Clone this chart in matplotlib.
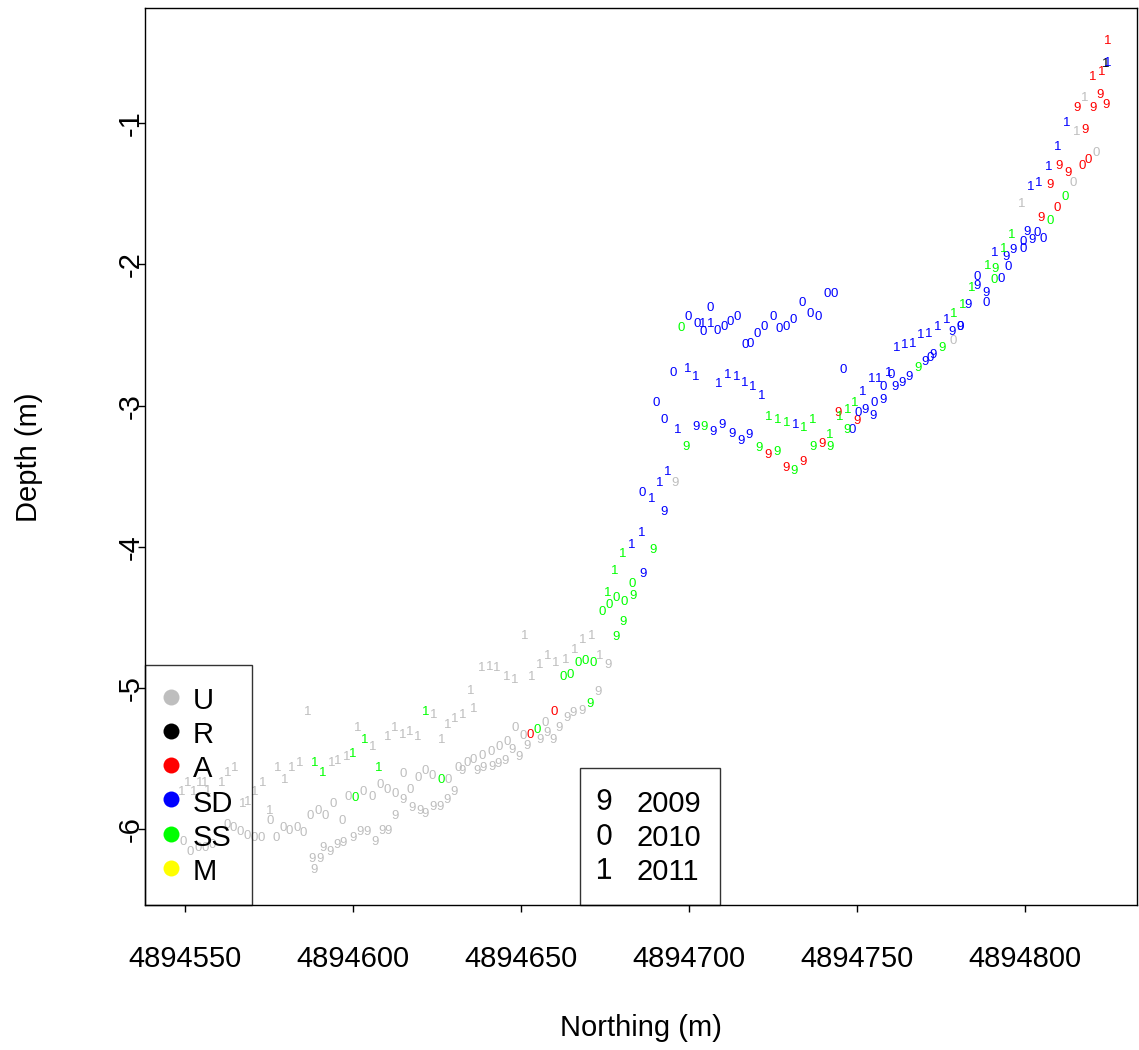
import matplotlib
matplotlib.use("Agg")
import matplotlib.pyplot as plt
from matplotlib.lines import Line2D

plt.rcParams["font.family"] = ["Liberation Sans", "DejaVu Sans"]
plt.rcParams["mathtext.fontset"] = "custom"
plt.rcParams["mathtext.rm"] = "Liberation Sans"

# survey points: northing (m) and depth (m) per group and year
u09_north = [4894587.8, 4894588.4, 4894590.2, 4894591.1, 4894593.2, 4894595.2, 4894597.0,
             4894600.0, 4894602.1, 4894604.2, 4894606.5, 4894608.6, 4894610.4, 4894612.5,
             4894614.9, 4894617.6, 4894619.9, 4894621.4, 4894623.8, 4894625.9, 4894628.0,
             4894630.1, 4894632.4, 4894636.9, 4894638.7, 4894641.4, 4894643.2, 4894645.2,
             4894647.3, 4894649.4, 4894651.8, 4894655.7, 4894657.7, 4894659.5, 4894661.3,
             4894663.7, 4894665.5, 4894668.2, 4894672.9, 4894675.9, 4894695.8]
u09_depth = [-6.21, -6.29, -6.21, -6.13, -6.16, -6.11, -6.10,
             -6.06, -6.02, -6.02, -6.09, -6.01, -6.01, -5.91,
             -5.79, -5.85, -5.87, -5.89, -5.84, -5.84, -5.79,
             -5.74, -5.59, -5.59, -5.57, -5.56, -5.54, -5.52,
             -5.44, -5.49, -5.41, -5.37, -5.32, -5.37, -5.28,
             -5.21, -5.18, -5.16, -5.03, -4.84, -3.55]

u10_north = [4894549.4, 4894551.5, 4894553.9, 4894556.0, 4894558.0, 4894562.5, 4894564.3,
             4894566.4, 4894568.5, 4894570.5, 4894572.6, 4894575.3, 4894577.1, 4894579.2,
             4894581.0, 4894583.3, 4894585.1, 4894587.2, 4894589.6, 4894591.7, 4894594.0,
             4894596.7, 4894598.5, 4894603.0, 4894605.7, 4894608.0, 4894610.1, 4894612.5,
             4894614.9, 4894617.0, 4894619.3, 4894621.4, 4894623.5, 4894628.3, 4894631.3,
             4894633.9, 4894635.7, 4894638.4, 4894641.1, 4894643.5, 4894645.8, 4894648.2,
             4894650.6, 4894657.1, 4894778.6, 4894814.3, 4894821.1]
u10_depth = [-6.09, -6.16, -6.13, -6.13, -6.11, -5.97, -5.99,
             -6.02, -6.05, -6.06, -6.06, -5.94, -6.06, -5.99,
             -6.01, -5.99, -6.03, -5.91, -5.87, -5.91, -5.82,
             -5.94, -5.77, -5.74, -5.77, -5.69, -5.72, -5.75,
             -5.61, -5.72, -5.64, -5.59, -5.62, -5.65, -5.57,
             -5.53, -5.51, -5.48, -5.45, -5.42, -5.38, -5.28,
             -5.34, -5.25, -2.54, -1.42, -1.21]

u11_north = [4894549.1, 4894550.9, 4894552.7, 4894554.5, 4894556.0, 4894556.8, 4894561.0,
             4894562.8, 4894564.9, 4894567.3, 4894568.8, 4894570.8, 4894573.2, 4894575.3,
             4894577.7, 4894579.8, 4894581.8, 4894584.2, 4894586.6, 4894593.8, 4894595.5,
             4894598.2, 4894601.5, 4894606.0, 4894610.4, 4894612.5, 4894614.9, 4894617.0,
             4894619.3, 4894624.1, 4894626.5, 4894628.3, 4894630.4, 4894632.7, 4894635.1,
             4894636.0, 4894638.4, 4894640.8, 4894642.9, 4894645.8, 4894648.2, 4894651.2,
             4894653.3, 4894655.7, 4894658.0, 4894660.4, 4894663.4, 4894666.1, 4894668.5,
             4894671.1, 4894673.5, 4894799.1, 4894815.5, 4894817.9]
u11_depth = [-5.74, -5.67, -5.74, -5.67, -5.67, -5.73, -5.67,
             -5.60, -5.57, -5.82, -5.81, -5.74, -5.67, -5.87,
             -5.57, -5.65, -5.57, -5.53, -5.17, -5.53, -5.52,
             -5.49, -5.28, -5.42, -5.35, -5.28, -5.33, -5.31,
             -5.35, -5.19, -5.37, -5.26, -5.22, -5.19, -5.02,
             -5.15, -4.86, -4.85, -4.86, -4.92, -4.94, -4.63,
             -4.92, -4.84, -4.77, -4.82, -4.80, -4.73, -4.66,
             -4.63, -4.77, -1.57, -1.06, -0.82]

r11_north = [4894824.1]
r11_depth = [-0.58]

a09_north = [4894723.5, 4894728.9, 4894733.9, 4894739.6, 4894744.3, 4894750.0, 4894804.8,
             4894807.4, 4894810.1, 4894812.8, 4894815.5, 4894817.9, 4894820.2, 4894822.3,
             4894824.1]
a09_depth = [-3.35, -3.44, -3.40, -3.27, -3.05, -3.11, -1.67,
             -1.44, -1.30, -1.35, -0.89, -1.05, -0.89, -0.80,
             -0.87]

a10_north = [4894652.7, 4894659.8, 4894809.5, 4894817.0, 4894819.0]
a10_depth = [-5.33, -5.17, -1.60, -1.30, -1.26]

a11_north = [4894820.2, 4894822.9, 4894824.7]
a11_depth = [-0.67, -0.64, -0.42]

sd09_north = [4894686.3, 4894692.6, 4894702.1, 4894707.1, 4894709.8, 4894712.8, 4894715.5,
              4894717.9, 4894752.4, 4894754.8, 4894757.7, 4894761.3, 4894763.4, 4894765.5,
              4894770.2, 4894772.6, 4894778.3, 4894780.7, 4894783.0, 4894785.7, 4894788.4,
              4894794.3, 4894796.4, 4894800.6, 4894802.1]
sd09_depth = [-4.19, -3.75, -3.15, -3.19, -3.14, -3.20, -3.25,
              -3.21, -3.03, -3.07, -2.96, -2.87, -2.84, -2.80,
              -2.69, -2.64, -2.48, -2.44, -2.29, -2.15, -2.20,
              -1.95, -1.90, -1.77, -1.83]

sd10_north = [4894686.0, 4894690.2, 4894692.6, 4894695.2, 4894699.7, 4894702.4, 4894704.2,
              4894706.3, 4894708.3, 4894710.4, 4894712.2, 4894714.3, 4894716.7, 4894718.2,
              4894720.2, 4894722.3, 4894725.0, 4894726.8, 4894728.9, 4894730.9, 4894733.6,
              4894736.0, 4894738.4, 4894741.1, 4894743.2, 4894745.8, 4894748.5, 4894750.3,
              4894755.1, 4894757.7, 4894760.1, 4894771.7, 4894780.7, 4894785.7, 4894788.4,
              4894792.9, 4894794.9, 4894799.4, 4894799.4, 4894803.6, 4894805.4]
sd10_depth = [-3.62, -2.98, -3.10, -2.77, -2.37, -2.42, -2.48,
              -2.31, -2.47, -2.44, -2.41, -2.37, -2.57, -2.56,
              -2.49, -2.44, -2.37, -2.46, -2.44, -2.39, -2.27,
              -2.35, -2.37, -2.21, -2.21, -2.75, -3.17, -3.05,
              -2.98, -2.87, -2.78, -2.66, -2.44, -2.09, -2.27,
              -2.10, -2.02, -1.89, -1.84, -1.78, -1.82]

sd11_north = [4894683.0, 4894686.0, 4894689.0, 4894691.4, 4894693.8, 4894696.7, 4894699.7,
              4894702.1, 4894704.2, 4894706.5, 4894708.9, 4894711.6, 4894714.3, 4894716.7,
              4894719.0, 4894721.7, 4894731.8, 4894751.8, 4894754.5, 4894756.5, 4894759.5,
              4894761.9, 4894764.3, 4894766.7, 4894769.0, 4894771.4, 4894774.1, 4894776.8,
              4894791.1, 4894801.8, 4894804.2, 4894807.1, 4894809.8, 4894812.5, 4894824.7]
sd11_depth = [-3.99, -3.90, -3.66, -3.55, -3.47, -3.17, -2.74,
              -2.80, -2.42, -2.42, -2.85, -2.78, -2.80, -2.84,
              -2.87, -2.93, -3.14, -2.90, -2.81, -2.81, -2.77,
              -2.59, -2.57, -2.56, -2.50, -2.49, -2.44, -2.39,
              -1.92, -1.45, -1.42, -1.31, -1.17, -1.00, -0.57]

ss09_north = [4894670.5, 4894678.3, 4894680.4, 4894683.3, 4894689.3, 4894699.1, 4894704.5,
              4894720.8, 4894726.2, 4894731.2, 4894736.9, 4894742.0, 4894747.0, 4894768.1,
              4894775.3, 4894791.1]
ss09_depth = [-5.11, -4.64, -4.53, -4.35, -4.02, -3.29, -3.15,
              -3.30, -3.33, -3.46, -3.29, -3.29, -3.17, -2.73,
              -2.59, -2.03]

ss10_north = [4894600.6, 4894626.2, 4894654.7, 4894662.5, 4894664.6, 4894667.0, 4894669.0,
              4894671.4, 4894674.1, 4894676.2, 4894678.3, 4894680.7, 4894683.0, 4894697.6,
              4894790.8, 4894807.4, 4894811.9]
ss10_depth = [-5.78, -5.65, -5.30, -4.92, -4.91, -4.82, -4.81,
              -4.82, -4.46, -4.41, -4.36, -4.39, -4.26, -2.45,
              -2.11, -1.69, -1.52]

ss11_north = [4894588.7, 4894591.1, 4894600.0, 4894603.6, 4894607.7, 4894621.7, 4894675.9,
              4894678.0, 4894680.4, 4894723.8, 4894726.5, 4894729.2, 4894734.2, 4894736.9,
              4894742.0, 4894744.9, 4894747.3, 4894749.4, 4894778.9, 4894781.5, 4894784.2,
              4894789.0, 4894793.8, 4894796.1]
ss11_depth = [-5.53, -5.60, -5.47, -5.37, -5.57, -5.17, -4.33,
              -4.17, -4.05, -3.08, -3.10, -3.12, -3.16, -3.10,
              -3.21, -3.08, -3.03, -2.98, -2.35, -2.29, -2.17,
              -2.01, -1.89, -1.79]

groups = ["U", "R", "A", "SD", "SS", "M"]
group_colors = ["#bebebe", "black", "red", "blue", "#00ff00", "yellow"]
years = [2009, 2010, 2011]
year_chars = ["9", "0", "1"]

x_ticks = [4894550, 4894600, 4894650, 4894700, 4894750, 4894800]
y_ticks = [-6, -5, -4, -3, -2, -1]

series = [
    ("U", 2009, u09_north, u09_depth), ("U", 2010, u10_north, u10_depth),
    ("U", 2011, u11_north, u11_depth), ("R", 2011, r11_north, r11_depth),
    ("A", 2009, a09_north, a09_depth), ("A", 2010, a10_north, a10_depth),
    ("A", 2011, a11_north, a11_depth), ("SD", 2009, sd09_north, sd09_depth),
    ("SD", 2010, sd10_north, sd10_depth), ("SD", 2011, sd11_north, sd11_depth),
    ("SS", 2009, ss09_north, ss09_depth), ("SS", 2010, ss10_north, ss10_depth),
    ("SS", 2011, ss11_north, ss11_depth),
]

FS = 21

fig = plt.figure(figsize=(11.39, 10.5), dpi=100)
ax = fig.add_axes([0.1273, 0.138, 0.8707, 0.854])

# each survey point is drawn as its year digit, coloured by group
for group, year, north, depth in series:
    color = group_colors[groups.index(group)]
    char = year_chars[years.index(year)]
    for n, d in zip(north, depth):
        ax.text(n, d, char, color=color, fontsize=9.5, ha="center", va="center")

ax.set_xlim(4894538.1, 4894833.3)
ax.set_ylim(-6.538, -0.186)

ax.set_xticks(x_ticks)
ax.set_xticklabels([str(t) for t in x_ticks])
ax.set_yticks(y_ticks)
ax.set_yticklabels([str(t) for t in y_ticks], rotation=90, va="center")
ax.tick_params(axis="both", direction="out", length=5, width=1, labelsize=FS)
ax.tick_params(axis="x", pad=24)
ax.tick_params(axis="y", pad=-5)
for sp in ax.spines.values():
    sp.set_linewidth(1.0)

ax.set_xlabel("Northing (m)", fontsize=FS)
ax.xaxis.set_label_coords(0.5, -0.137)
ax.xaxis.label.set_va("center")
ax.set_ylabel("Depth (m)", fontsize=FS)
ax.yaxis.set_label_coords(-0.117, 0.5)
ax.yaxis.label.set_va("center")

group_handles = [Line2D([], [], ls="", marker="o", markersize=11.5, color=c,
                        markeredgewidth=0) for c in group_colors]
leg1 = ax.legend(group_handles, groups, loc="lower left", bbox_to_anchor=(0, 0),
                 borderaxespad=0, fontsize=FS, fancybox=False, edgecolor="black",
                 facecolor="none", framealpha=None, borderpad=0.65, labelspacing=0.125,
                 handleheight=1.18, handlelength=0.5, handletextpad=0.5)
leg1.get_frame().set_linewidth(1.0)
ax.add_artist(leg1)

year_handles = [Line2D([], [], ls="", marker=f"${ch}$", markersize=15, color="black",
                       markeredgewidth=0) for ch in year_chars]
leg2 = ax.legend(year_handles, [str(y) for y in years], loc="lower left",
                 bbox_to_anchor=((580 - 145) / 991.7, 0), borderaxespad=0, fontsize=FS,
                 fancybox=False, edgecolor="black", facecolor="none", framealpha=None,
                 borderpad=0.65, labelspacing=0.125, handleheight=1.18, handlelength=0.35,
                 handletextpad=0.95)
leg2.get_frame().set_linewidth(1.0)

fig.savefig("out.png", dpi=100)
